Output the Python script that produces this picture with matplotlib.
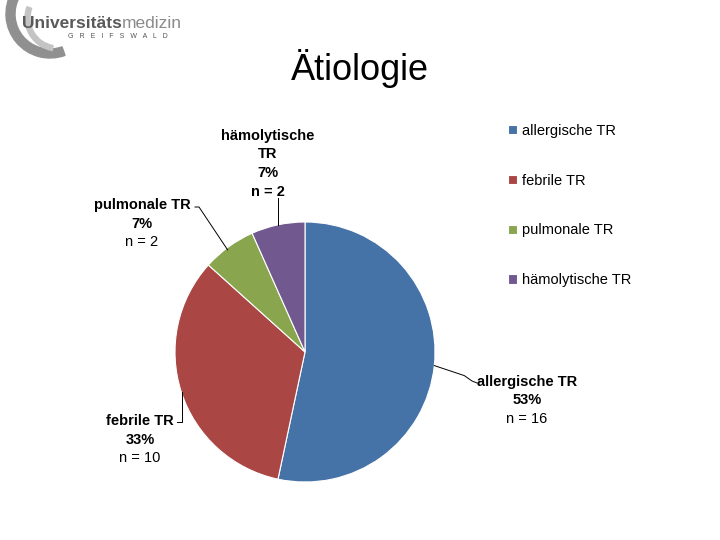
import numpy as np
import matplotlib.pyplot as plt
from matplotlib.patches import Wedge

plt.rcParams['font.family'] = ['Liberation Sans', 'DejaVu Sans']

# data
categories = ['allergische TR', 'febrile TR', 'pulmonale TR', 'hämolytische TR']
counts = [16, 10, 2, 2]
colors = ['#4572A7', '#AA4643', '#89A54E', '#71588F']

fig = plt.figure(figsize=(7.2, 5.4), dpi=100)
ax = fig.add_axes([0, 0, 1, 1])

# pie in pixel coordinates (y up)
cx, cy, r = 305, 540 - 352, 130
wedges, _ = ax.pie(counts, colors=colors, startangle=90, counterclock=False,
                   center=(cx, cy), radius=r,
                   wedgeprops=dict(linewidth=0.8, edgecolor='white'))
ax.set_xlim(0, 720)
ax.set_ylim(0, 540)
ax.set_aspect('equal')
ax.axis('off')

total = sum(counts)
pct = [int(round(100 * c / total)) for c in counts]

# label x-centre and y of first line (pixels from top)
lab_x = [527, 140, 142, 268]
lab_top = [382, 421, 205, 136]
n_bold = [False, False, False, True]
names = [['allergische TR'], ['febrile TR'], ['pulmonale TR'], ['hämolytische', 'TR']]
lh = 18.5

for i, w in enumerate(wedges):
    mid = np.deg2rad((w.theta1 + w.theta2) / 2)
    ex, ey = cx + r * np.cos(mid), cy + r * np.sin(mid)
    lines = names[i] + [f'{pct[i]}%', f'n = {counts[i]}']
    for k, s in enumerate(lines):
        last = k == len(lines) - 1
        ax.text(lab_x[i], 540 - (lab_top[i] + k * lh), s, ha='center', va='center',
                fontsize=10.5,
                fontweight='bold' if (not last or n_bold[i]) else 'normal')
    ty = 540 - lab_top[i]
    if i == 0:
        xs = [ex, ex + 30, 472, 477]
        ys = [ey, ey - 10, ty + 1, ty - 1]
    elif i == 1:
        xs = [ex + 1, ex + 1, ex - 4]
        ys = [ey, ty - 1, ty - 1]
    elif i == 2:
        xs = [ex - 1, 199, 195]
        ys = [ey - 3, ty - 2, ty - 2]
    else:
        xs = [ex, ex]
        ys = [ey, ey + 27]
    ax.plot(xs, ys, color='black', linewidth=0.7)

# title
ax.text(360, 540 - 68, 'Ätiologie', ha='center', va='center', fontsize=26)

# legend
leg = fig.legend(wedges, categories, loc='upper left', bbox_to_anchor=(0.688, 0.795),
                 frameon=False, fontsize=10.5, labelspacing=2.45,
                 handlelength=0.6, handleheight=0.6, handletextpad=0.3)

# logo
ax.add_patch(Wedge((50, 540 - 14), 44, 150, 290, width=9, color='#909090'))
ax.add_patch(Wedge((58, 540 - 18), 33, 160, 260, width=5, color='#c4c4c4'))
t1 = ax.text(22, 540 - 23, 'Universitäts', fontsize=12.5, fontweight='bold',
             color='#5a5a5a', va='center')
fig.canvas.draw()
bb = t1.get_window_extent(renderer=fig.canvas.get_renderer())
ax.text(bb.x1, 540 - 23, 'medizin', fontsize=12.5, color='#8a8a8a', va='center')
ax.text(68, 540 - 37, 'G   R   E   I   F   S   W   A   L   D', fontsize=5,
        color='#555555', va='center')

fig.savefig('out.png', dpi=100)
